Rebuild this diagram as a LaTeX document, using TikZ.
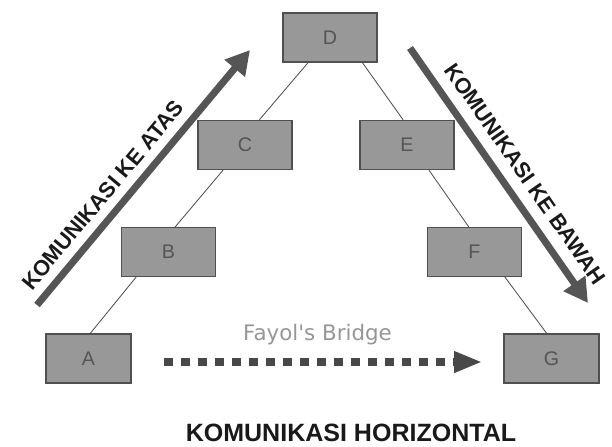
\documentclass[tikz,border=0pt]{standalone}
\usepackage{fontspec}
\setmainfont{Liberation Sans}
\newfontfamily\dejavu{DejaVu Sans}
\usetikzlibrary{arrows.meta, calc, positioning}

\definecolor{boxfill}{RGB}{152,152,152}
\definecolor{boxline}{RGB}{80,80,80}
\definecolor{boxtext}{RGB}{85,85,85}
\definecolor{arrowgray}{RGB}{85,85,85}
\definecolor{bridgegray}{RGB}{72,72,72}
\definecolor{labelgray}{RGB}{150,150,150}

\begin{document}
\begin{tikzpicture}[
  x=0.025cm, y=-0.025cm,
  box/.style={rectangle, draw=boxline, fill=boxfill, line width=0.8pt,
    minimum width=2.35cm, minimum height=1.225cm, inner sep=0pt,
    text=boxtext, font=\fontsize{14}{16}\selectfont},
  link/.style={draw=boxline, line width=0.6pt},
  bigarrow/.style={draw=arrowgray, line width=5pt,
    -{Triangle[length=17pt, width=18pt]}},
  bridge/.style={draw=bridgegray, line width=5.7pt, dash pattern=on 6.4pt off 5.7pt,
    -{Triangle[length=20pt, width=14pt]}},
  sidetext/.style={font=\bfseries\fontsize{15.5}{17}\selectfont, text=black!90, inner sep=0pt}]

  \useasboundingbox (0,0) rectangle (612,447);

  % levels of the chart
  \node[box] (D) at (330,37.5) {D};
  \node[box] (C) at (245,145) {C};
  \node[box] (E) at (407,145) {E};
  \node[box] (B) at (168.5,252) {B};
  \node[box] (F) at (474.5,252) {F};
  \node[box, minimum width=2.125cm] (A) at (88.5,358.5) {A};
  \node[box, minimum width=2.375cm] (G) at (551.5,358.5) {G};

  \path[link]
    ($(D.south west)!.27!(D.south east)$) edge ($(C.north west)!.65!(C.north east)$)
    ($(C.south west)!.27!(C.south east)$) edge ($(B.north west)!.57!(B.north east)$)
    ($(B.south west)!.16!(B.south east)$) edge ($(A.north west)!.52!(A.north east)$)
    ($(D.south west)!.84!(D.south east)$) edge ($(E.north west)!.46!(E.north east)$)
    ($(E.south west)!.73!(E.south east)$) edge ($(F.north west)!.44!(F.north east)$)
    ($(F.south west)!.82!(F.south east)$) edge ($(G.north west)!.45!(G.north east)$);

  % vertical communication
  \coordinate (upS) at (37,305);
  \coordinate (upE) at (250,50);
  \coordinate (downS) at (410,48);
  \coordinate (downE) at (588,303);
  \draw[bigarrow] (upS) -- node[sidetext, pos=.38, sloped, above=6pt] {KOMUNIKASI KE ATAS} (upE);
  \draw[bigarrow] (downS) -- node[sidetext, pos=.545, sloped, above=8pt] {KOMUNIKASI KE BAWAH} (downE);

  % horizontal
  \draw[bridge, shorten <=22.8pt, shorten >=15pt] ([yshift=-2.5pt]A.east) --
    node[above=9pt, inner sep=0pt, text=labelgray, font=\dejavu\fontsize{15.2}{17}\selectfont] (fayol) {Fayol's Bridge}
    ([yshift=-2.5pt]G.west);
  \node[font=\bfseries\fontsize{17.8}{20}\selectfont, text=black!90] (judul) at (351,433) {KOMUNIKASI HORIZONTAL};
\end{tikzpicture}
\end{document}
